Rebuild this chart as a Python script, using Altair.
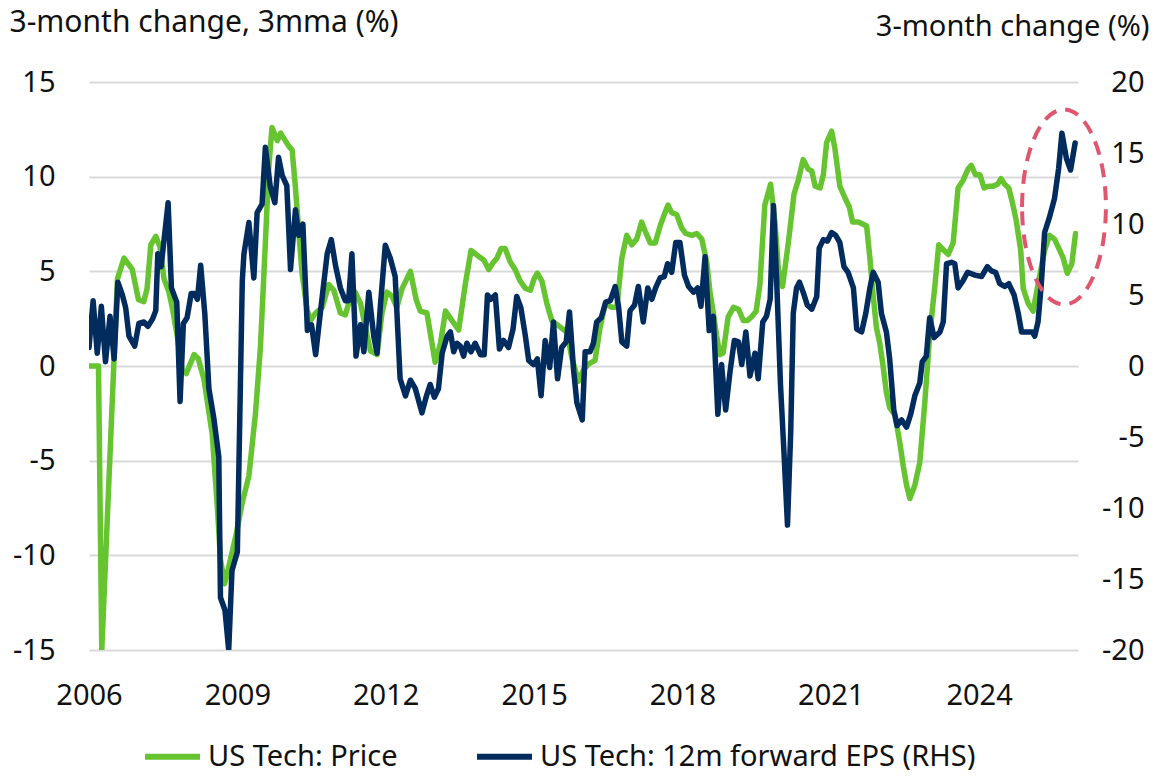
import altair as alt
import pandas as pd

FONT = "Noto Sans"
TEXT = "#111111"
FS = 29

series_names = ["US Tech: Price", "US Tech: 12m forward EPS (RHS)"]
series_colors = ["#67C431", "#022B5E"]

x_ticks = [2006, 2009, 2012, 2015, 2018, 2021, 2024]
left_ticks = [-15, -10, -5, 0, 5, 10, 15]
right_ticks = [-20, -15, -10, -5, 0, 5, 10, 15, 20]

# months since Jan 2006
price_month = [0, 2.3, 3.1, 6.1, 6.9, 8.5, 10.5, 12, 13.3, 14.1, 15, 16.2, 17.2, 18.2, 19.4, 20.2, 21.4,
               22.6, 23.6, 25.5, 26.5, 27.9, 29.9, 31.1, 31.9, 32.9, 33.5, 35.6, 37.2, 38.8, 40.4,
               41.6, 42.8, 43.6, 44.4, 45.7, 46.5, 48.5, 49.3, 50.1, 50.9, 51.7, 52.9, 53.7, 55,
               56.6, 58.2, 59.4, 61, 62.2, 63, 64.6, 65.9, 67.1, 68.3, 69.9, 71.1, 72.3, 73.5, 74.7,
               76, 78, 79.4, 80.4, 82, 84, 85.3, 86.5, 88.1, 89.7, 91.3, 92.7, 94.5, 95.8, 97,
               98.2, 99, 100, 101, 102.2, 103.4, 104.6, 105.9, 107.1, 108, 108.8, 109.9, 111.1,
               112.3, 113.5, 114.7, 116, 117.2, 118.8, 120, 121.2, 122.8, 124, 125.3, 126.9, 128.1,
               129.3, 130.5, 131.7, 132.9, 134.1, 135, 136.2, 137.4, 138.6, 139.6, 140.5, 141.4,
               142.6, 143.8, 144.8, 146.3, 147.5, 148.7, 149.9, 150.7, 151.5, 152.3, 153.1, 153.9,
               155.1, 156.4, 157.6, 158.8, 159.8, 160.8, 161.9, 162.8, 164, 165.4, 166.5, 167.3,
               168.3, 169.7, 171.1, 172.1, 173.3, 174.5, 175.4, 176.2, 177.4, 178.2, 179, 180.2,
               181, 182.2, 183.4, 184.5, 185.3, 186.7, 188.7, 189.5, 190.3, 191.1, 191.9, 192.7,
               193.5, 194.3, 195.6, 196.8, 197.6, 198.4, 199.2, 200.4, 201.6, 202.8, 204, 205.3,
               206.2, 207.5, 208.5, 209.7, 210.9, 212.1, 213.3, 214.1, 215.1, 216.2, 217.2, 218.2,
               219.4, 220.5, 221.3, 222.2, 223.2, 224, 225, 226.1, 226.7, 227.9, 229.1, 230.3,
               231.9, 233.1, 234.3, 235.6, 236.4, 237.4, 238.5, 239.4]
price_value = [0, 0, -15, 0.5, 4.6, 5.7, 5.1, 3.5, 3.4, 4.1, 6.4, 6.85, 6.3, 4.6, 3.9, 3.1, 1.6,
               -0.2, -0.4, 0.6, 0.4, -0.7, -3.6, -7.3, -10.2, -11.5, -11.0, -9.0, -7.2, -5.8, -2.5,
               1.0, 6.5, 10.4, 12.6, 11.9, 12.3, 11.6, 11.4, 9.4, 7.1, 4.9, 3.0, 2.4, 2.8,
               3.1, 4.3, 4.0, 2.8, 2.7, 3.3, 3.9, 3.3, 2.0, 0.8, 0.6, 2.8, 3.9, 3.7, 3.1,
               4.1, 5.0, 3.5, 2.9, 2.8, 0.2, 1.2, 2.9, 2.4, 1.9, 4.3, 6.1, 5.8, 5.6, 5.1,
               5.5, 5.7, 6.2, 6.2, 5.5, 5.1, 4.5, 4.1, 4.0, 4.6, 4.9, 4.5, 3.3,
               2.4, 2.2, 2.0, 1.8, 0.4, -0.8, -0.2, 0.1, 0.3, 2.0, 3.3, 3.1, 3.1,
               5.7, 6.9, 6.4, 6.7, 7.6, 7.1, 6.5, 6.5, 7.4, 8.0, 8.5, 8.1,
               8.0, 7.3, 7.0, 6.9, 7.0, 6.7, 5.5, 3.9, 2.8, 1.6, 0.6, 0.7,
               2.6, 3.1, 3.0, 2.4, 2.4, 2.6, 2.9, 4.3, 8.5, 9.6, 7.5, 5.1,
               4.2, 6.5, 9.1, 9.8, 10.9, 10.4, 10.3, 9.5, 9.4, 10.1, 11.8, 12.4,
               11.5, 9.5, 8.9, 8.4, 7.6, 7.6, 7.4, 5.7, 3.7, 2.0, 1.2, 0.0,
               -1.4, -2.2, -2.6, -4.1, -5.3, -6.3, -7.0, -6.3, -5.1, -2.0, 1.6, 4.3,
               6.4, 6.1, 5.9, 6.5, 9.4, 9.8, 10.4, 10.6, 10.1, 10.1, 9.4, 9.5,
               9.5, 9.6, 9.9, 9.6, 9.4, 8.7, 7.7, 6.1, 4.1, 3.3, 2.9, 4.3,
               6.1, 6.9, 6.7, 6.1, 5.7, 4.9, 5.4, 7.0]

eps_month = [0, 1.0, 2.0, 3.0, 4.0, 5.1, 6.1, 7.0, 8.1, 8.9, 9.7, 11.1, 12.1, 13.3, 14.3, 15.4, 16.2,
             16.7, 17.5, 19.2, 20, 21.3, 22.1, 22.9, 23.8, 24.8, 25.6, 26.3, 27.1, 28.1, 29.1,
             30.3, 31.5, 31.9, 33.0, 33.9, 34.7, 36.0, 37.2, 37.6, 38.8, 40, 40.8, 42, 42.8, 44,
             45.1, 46, 46.9, 48, 48.9, 50.1, 50.9, 51.9, 53, 54, 55, 56.2, 57.8, 58.8, 59.8, 61,
             62.2, 63, 63.8, 64.8, 65.9, 66.7, 67.9, 69.1, 69.9, 70.7, 71.9, 73.1, 74.3, 75.5,
             76.8, 78, 79.2, 80.8, 81.9, 82.8, 83.8, 84.8, 85.7, 86.9, 87.7, 88.5, 89.3, 90.1,
             90.9, 91.7, 92.7, 93.7, 95, 95.9, 96.7, 97.5, 98.6, 99.6, 100.6, 101.8, 102.9, 103.8,
             104.8, 105.9, 106.7, 107.9, 108.8, 109.7, 110.7, 111.8, 112.7, 113.7, 114.7, 115.8,
             116.6, 117.6, 118.4, 119.7, 120.4, 121.6, 122.4, 123.2, 124.3, 125.4, 126.5, 127.7,
             128.5, 129.3, 130.5, 131.3, 132.4, 133.3, 134.5, 135.6, 136.6, 137.5, 138.6, 139.6,
             140.4, 141.4, 142.4, 143.4, 144.5, 145.5, 146.7, 147.7, 148.5, 149.5, 150.5, 151.5,
             152.6, 153.5, 154.5, 155.6, 156.6, 157.6, 158.4, 159.4, 160.4, 161.6, 162.4, 163.5,
             164.4, 165.3, 166.1, 166.9, 167.8, 168.6, 169.5, 170.3, 170.9, 171.7, 172.4, 173.3,
             174.3, 175.4, 176.6, 177.2, 178.2, 179.2, 180.2, 181.2, 182.2, 183.2, 184.2, 185.5,
             186.3, 187.5, 188.5, 189.5, 190.3, 191.5, 192.3, 193.5, 194.3, 195.3, 196.1, 197.2,
             198.4, 199.4, 200.4, 201.6, 202.2, 203.2, 204, 205.1, 206.5, 207.3, 208.1, 209.3,
             210.1, 210.9, 212.1, 213.2, 215, 216.6, 218, 219, 220, 221, 222.2, 223.2, 224.5,
             225.5, 226.3, 227.5, 228.9, 229.5, 230.3, 231.1, 231.9, 233.1, 234.3, 235.3, 236.1,
             237.2, 238.2, 239.3]
eps_value = [1.3, 4.6, 0.9, 4.2, 0.3, 3.5, 0.5, 5.9, 5.0, 4.1, 2.1, 1.4, 3.0, 3.1, 2.8, 3.3, 3.9,
             7.9, 7.0, 11.5, 5.5, 4.5, -2.5, 3.0, 3.4, 5.1, 5.1, 4.7, 7.1, 3.7, -1.6,
             -3.7, -6.4, -16.3, -17.2, -20, -14.4, -13.1, 6.0, 7.9, 10.1, 6.2, 10.8, 11.4, 15.4, 12.6,
             11.5, 14.7, 13.4, 12.7, 6.8, 11.0, 9.2, 10.0, 2.5, 2.9, 0.8, 3.9, 7.9, 8.9, 7.1, 5.5,
             4.6, 4.6, 7.9, 0.7, 2.9, 1.0, 5.2, 2.1, 0.9, 4.2, 8.5, 7.6, 6.3, -0.9,
             -2.1, -1.0, -1.6, -3.3, -2.1, -1.3, -2.2, -1.6, 0.9, 2.1, 2.4, 1.0, 1.6, 1.4,
             0.7, 1.6, 1.0, 1.6, 0.8, 0.8, 5.0, 4.7, 5.0, 1.2, 1.8, 1.3, 2.6, 4.9,
             4.1, 2.1, 0.4, 0.1, 0.5, -2.1, 1.8, -0.1, 3.1, -0.9, 1.3, 1.7,
             3.8, -0.3, -2.6, -3.8, 1.0, 1.0, 1.6, 3.1, 3.4, 4.5, 4.6, 5.6,
             4.2, 1.7, 1.4, 3.9, 4.3, 5.6, 3.1, 5.5, 4.7, 5.5, 6.2, 6.3,
             7.2, 6.6, 8.7, 8.7, 6.4, 5.6, 5.2, 5.5, 4.2, 7.7, 2.5, 3.5,
             -3.4, 0.1, -3.1, -0.3, 1.8, 1.7, 0.1, 2.4, -0.7, 0.9, -0.9, 3.1,
             3.5, 4.7, 11.3, 5.8, -1.3, -5.8, -11.2, -4.5, 3.7, 5.5, 5.9, 5.2,
             4.3, 4.0, 4.9, 8.3, 8.9, 8.8, 9.4, 9.2, 8.7, 7.0, 6.6, 5.5,
             2.6, 2.4, 3.7, 5.5, 6.6, 5.9, 3.7, 2.4, 0.5, -3.1, -4.2, -3.8,
             -4.3, -3.4, -2.1, -1.2, 0.3, 0.7, 3.4, 2.0, 2.4, 3.1, 7.2, 7.3,
             7.2, 5.5, 6.0, 6.6, 6.4, 6.3, 7.0, 6.7, 6.6, 5.8, 5.6, 5.8, 5.0,
             3.7, 2.4, 2.4, 2.4, 2.1, 3.1, 5.8, 9.4, 10.5, 11.8, 13.9, 16.4,
             14.6, 13.8, 15.7]

# dashed ellipse highlighting the latest EPS surge (centre in data units)
highlight_month = [236.6]
highlight_value = [8.4]

price_df = pd.DataFrame({"year": [2006 + m / 12 for m in price_month],
                         "value": price_value, "series": series_names[0]})
eps_df = pd.DataFrame({"year": [2006 + m / 12 for m in eps_month],
                       "value": eps_value, "series": series_names[1]})
hl_df = pd.DataFrame({"year": [2006 + m / 12 for m in highlight_month],
                      "value": highlight_value})

x_enc = alt.X("year:Q",
              scale=alt.Scale(domain=[2006, 2026], nice=False, zero=False),
              axis=alt.Axis(values=x_ticks, format="d", grid=False, domain=False, ticks=False,
                            labelPadding=31, labelFontSize=FS, labelFlush=False,
                            labelOverlap=False, title=None))

color_enc = alt.Color("series:N",
                      scale=alt.Scale(domain=series_names, range=series_colors),
                      legend=alt.Legend(title=None, orient="none", legendX=53, legendY=644,
                                        direction="horizontal", symbolType="stroke",
                                        symbolSize=3025, symbolStrokeWidth=6,
                                        labelFontSize=FS, labelOffset=5, columnPadding=67,
                                        padding=0, labelLimit=700))

line_kw = dict(strokeWidth=5.5, strokeJoin="round", strokeCap="round", clip=True)

price_line = alt.Chart(price_df).mark_line(**line_kw).encode(
    x=x_enc,
    y=alt.Y("value:Q", scale=alt.Scale(domain=[-15, 15], nice=False),
            axis=alt.Axis(orient="left", values=left_ticks, grid=True, gridColor="#D9D9D9",
                          gridWidth=2, domain=False, ticks=False, labelPadding=34,
                          labelExpr="'' + datum.value",
                          labelFontSize=FS, title="3-month change, 3mma (%)", titleAngle=0,
                          titleAlign="left", titleBaseline="middle", titleX=-80, titleY=-60,
                          titleFontSize=30, titleFontWeight="normal")),
    color=color_enc,
    order=alt.Order("year:Q"),
)

eps_line = alt.Chart(eps_df).mark_line(**line_kw).encode(
    x=x_enc,
    y=alt.Y("value:Q", scale=alt.Scale(domain=[-20, 20], nice=False),
            axis=alt.Axis(orient="right", values=right_ticks, grid=False, domain=False,
                          ticks=False, labelPadding=66, labelAlign="right", labelFontSize=FS,
                          labelExpr="'' + datum.value",
                          title="3-month change (%)", titleAngle=0, titleAlign="right",
                          titleBaseline="middle", titleX=71, titleY=-56, titleFontSize=29,
                          titleFontWeight="normal")),
    color=color_enc,
    order=alt.Order("year:Q"),
)

ELLIPSE = "M -0.43 0 A 0.43 1 0 1 1 0.43 0 A 0.43 1 0 1 1 -0.43 0 Z"
highlight = alt.Chart(hl_df).mark_point(
    shape=ELLIPSE, size=38025, filled=False, color="#E0566F", strokeWidth=4,
    strokeDash=[14, 9], opacity=1,
).encode(
    x=x_enc,
    y=alt.Y("value:Q", scale=alt.Scale(domain=[-15, 15], nice=False), axis=None),
)

chart = alt.layer(price_line, eps_line, highlight).resolve_scale(
    y="independent"
).properties(
    width=989, height=568,
    autosize=alt.AutoSizeParams(type="none"),
    padding={"left": 81, "top": 74, "right": 73, "bottom": 120},
).configure_view(stroke=None).configure_axis(
    labelFont=FONT, titleFont=FONT, labelColor=TEXT, titleColor=TEXT
).configure_legend(labelFont=FONT, labelColor=TEXT)

chart.save("out.html", embed_options={"renderer": "svg", "actions": False})
